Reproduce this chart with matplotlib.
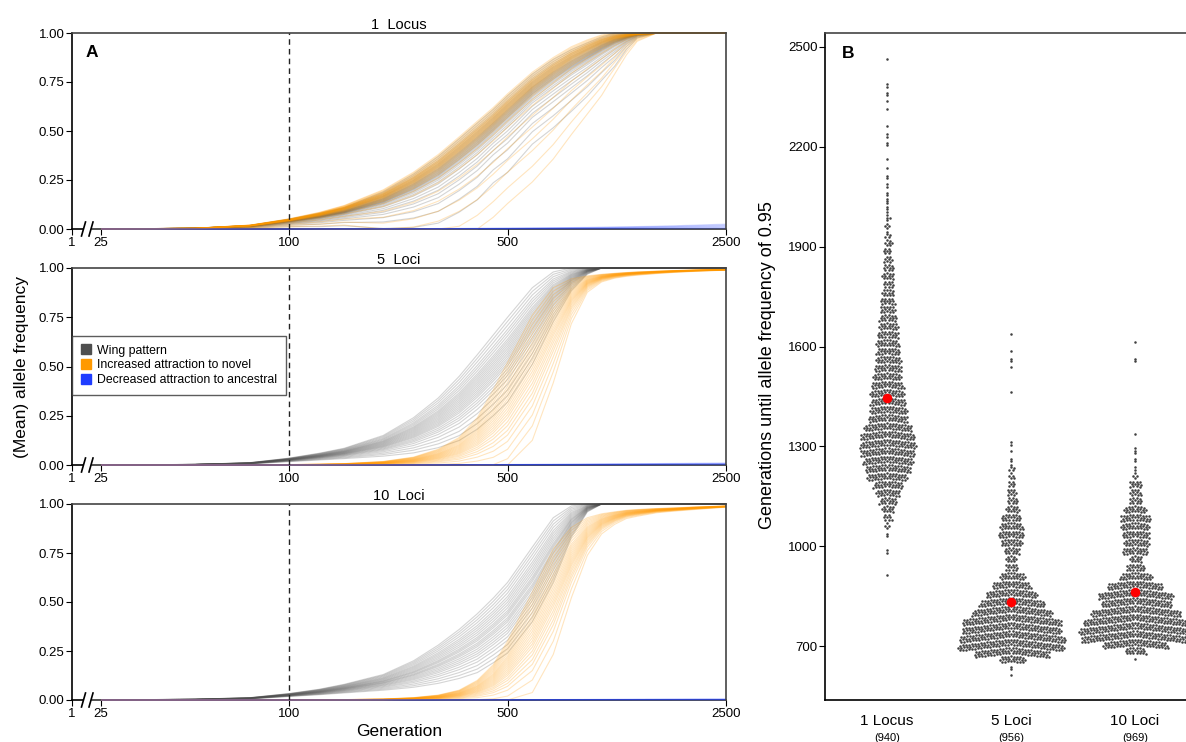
import numpy as np
import matplotlib.pyplot as plt
from matplotlib.lines import Line2D
from matplotlib.transforms import blended_transform_factory

plt.rcParams['font.family'] = ['Liberation Sans', 'DejaVu Sans']

# ---------------- panel A: allele frequency trajectories ----------------
GENS = [25, 50, 75, 100, 125, 150, 200, 250, 300, 350, 400, 450, 500, 600, 700, 800, 900, 1000,
        1100, 1200, 1300, 1500, 1700, 2000, 2500]

# leading / lagging edge of each bundle of replicate lines
L1_GREY_LEAD = [0, 0.004, 0.018, 0.05, 0.08, 0.11, 0.19, 0.28, 0.37, 0.46, 0.54, 0.61, 0.68, 0.79, 0.865,
                0.915, 0.95, 0.98, 1, 1, 1, 1, 1, 1, 1]
L1_GREY_LAG = [0, 0.002, 0.01, 0.028, 0.04, 0.055, 0.08, 0.12, 0.17, 0.24, 0.31, 0.39, 0.45, 0.58, 0.66,
               0.73, 0.79, 0.85, 0.9, 0.95, 0.985, 1, 1, 1, 1]
L1_ORANGE_LEAD = [0, 0.004, 0.02, 0.052, 0.085, 0.12, 0.2, 0.29, 0.38, 0.47, 0.55, 0.62, 0.69, 0.8, 0.875,
                  0.93, 0.965, 0.99, 1, 1, 1, 1, 1, 1, 1]
L1_ORANGE_LAG = [0, 0.002, 0.012, 0.032, 0.05, 0.07, 0.1, 0.15, 0.21, 0.28, 0.35, 0.42, 0.49, 0.6, 0.69,
                 0.77, 0.83, 0.88, 0.925, 0.96, 0.985, 1, 1, 1, 1]
L1_BLUE_LEAD = [0, 0, 0, 0.0005, 0.0008, 0.001, 0.0015, 0.002, 0.0025, 0.003, 0.0035, 0.004, 0.0045, 0.0055,
                0.0065, 0.0075, 0.0085, 0.0095, 0.0105, 0.0115, 0.0125, 0.0145, 0.0165, 0.02, 0.025]
L1_BLUE_LAG = [0, 0, 0, 0, 0, 0, 0, 0, 0, 0.0002, 0.0003, 0.0004, 0.0005, 0.0006, 0.0008, 0.001, 0.001,
               0.0012, 0.0014, 0.0015, 0.0016, 0.002, 0.0022, 0.0025, 0.003]

L5_GREY_LEAD = [0, 0.003, 0.012, 0.035, 0.06, 0.085, 0.15, 0.24, 0.34, 0.45, 0.56, 0.66, 0.75, 0.9, 0.98,
                1, 1, 1, 1, 1, 1, 1, 1, 1, 1]
L5_GREY_LAG = [0, 0.002, 0.006, 0.018, 0.027, 0.035, 0.05, 0.07, 0.1, 0.14, 0.2, 0.27, 0.34, 0.53, 0.74,
               0.89, 0.97, 1, 1, 1, 1, 1, 1, 1, 1]
L5_ORANGE_LEAD = [0, 0, 0, 0.002, 0.004, 0.007, 0.018, 0.04, 0.08, 0.14, 0.24, 0.38, 0.52, 0.76, 0.9,
                  0.945, 0.96, 0.968, 0.973, 0.977, 0.98, 0.984, 0.987, 0.99, 0.993]
L5_ORANGE_LAG = [0, 0, 0, 0, 0, 0, 0.002, 0.005, 0.01, 0.02, 0.04, 0.07, 0.12, 0.3, 0.55,
                 0.78, 0.9, 0.94, 0.955, 0.963, 0.968, 0.975, 0.98, 0.985, 0.99]
L5_BLUE_LEAD = [0, 0, 0, 0, 0.0003, 0.0005, 0.001, 0.0013, 0.0016, 0.0019, 0.0022, 0.0025, 0.0028, 0.0033,
                0.0038, 0.0043, 0.0048, 0.0053, 0.0058, 0.0062, 0.0066, 0.0074, 0.0082, 0.009, 0.01]
L5_BLUE_LAG = [0, 0, 0, 0, 0, 0, 0, 0, 0, 0, 0, 0.0002, 0.0003, 0.0004, 0.0005, 0.0006, 0.0007, 0.0008,
               0.0009, 0.001, 0.001, 0.0012, 0.0014, 0.0016, 0.002]

L10_GREY_LEAD = [0, 0.004, 0.012, 0.033, 0.055, 0.08, 0.13, 0.2, 0.28, 0.36, 0.44, 0.52, 0.6, 0.78, 0.93,
                 0.99, 1, 1, 1, 1, 1, 1, 1, 1, 1]
L10_GREY_LAG = [0, 0.002, 0.006, 0.018, 0.027, 0.036, 0.05, 0.065, 0.085, 0.11, 0.14, 0.19, 0.24, 0.4, 0.6,
                0.83, 0.96, 1, 1, 1, 1, 1, 1, 1, 1]
L10_ORANGE_LEAD = [0, 0, 0, 0.001, 0.001, 0.002, 0.005, 0.012, 0.025, 0.05, 0.1, 0.18, 0.3, 0.55, 0.77,
                   0.88, 0.93, 0.95, 0.96, 0.968, 0.972, 0.977, 0.98, 0.985, 0.99]
L10_ORANGE_LAG = [0, 0, 0, 0, 0, 0, 0, 0.002, 0.004, 0.007, 0.012, 0.025, 0.05, 0.15, 0.35,
                  0.6, 0.78, 0.87, 0.91, 0.935, 0.945, 0.96, 0.967, 0.975, 0.985]
L10_BLUE_LEAD = [0, 0, 0, 0, 0, 0, 0.0005, 0.0008, 0.001, 0.0012, 0.0014, 0.0016, 0.0018, 0.0021, 0.0024,
                 0.0027, 0.003, 0.0032, 0.0034, 0.0036, 0.0038, 0.0041, 0.0044, 0.0047, 0.005]
L10_BLUE_LAG = [0, 0, 0, 0, 0, 0, 0, 0, 0, 0, 0, 0, 0, 0.0002, 0.0003, 0.0004, 0.0004, 0.0005, 0.0005,
                0.0006, 0.0006, 0.0007, 0.0008, 0.0009, 0.001]

# position of each replicate between leading (0) and lagging (1) edge
W1_GREY = [0.0, 0.05, 0.1, 0.14, 0.18, 0.21, 0.24, 0.27, 0.3, 0.32, 0.34, 0.36, 0.38, 0.4, 0.42, 0.44,
           0.46, 0.48, 0.5, 0.53, 0.56, 0.6, 0.65, 0.7, 0.78, 0.86, 0.95, 1.05, 1.2, 1.4, 1.7]
W1_ORANGE = [0.0, 0.04, 0.08, 0.12, 0.15, 0.18, 0.2, 0.22, 0.24, 0.26, 0.28, 0.3, 0.32, 0.34, 0.36,
             0.38, 0.4, 0.43, 0.46, 0.5, 0.55, 0.6, 0.7, 0.85, 1.1, 1.4, 1.7, 2.0, 2.4, 2.8]
W5_GREY = [0.0, 0.05, 0.1, 0.15, 0.19, 0.23, 0.27, 0.3, 0.33, 0.36, 0.39, 0.42, 0.45, 0.48, 0.51, 0.54,
           0.57, 0.6, 0.64, 0.68, 0.72, 0.77, 0.83, 0.9, 0.97, 1.05]
W5_ORANGE = [0.0, 0.05, 0.1, 0.15, 0.2, 0.25, 0.3, 0.34, 0.38, 0.42, 0.46, 0.5, 0.54, 0.58, 0.62,
             0.66, 0.7, 0.75, 0.8, 0.86, 0.92, 1.0, 1.1, 1.22, 1.38]
W10_GREY = [0.0, 0.05, 0.1, 0.15, 0.2, 0.24, 0.28, 0.32, 0.36, 0.4, 0.43, 0.46, 0.5, 0.53, 0.56, 0.6,
            0.64, 0.68, 0.72, 0.77, 0.82, 0.88, 0.94, 1.0]
W10_ORANGE = [0.0, 0.05, 0.1, 0.15, 0.2, 0.25, 0.3, 0.34, 0.38, 0.42, 0.46, 0.5, 0.54, 0.58, 0.62,
              0.66, 0.7, 0.75, 0.8, 0.86, 0.92, 1.0, 1.12, 1.28]
W_BLUE = [0.0, 0.15, 0.3, 0.45, 0.6, 0.75, 0.9, 1.0]

PANEL_TITLES = ['1  Locus', '5  Loci', '10  Loci']
LEGEND_LABELS = ['Wing pattern', 'Increased attraction to novel', 'Decreased attraction to ancestral']

# ---------------- panel B: generations until frequency 0.95 (25-generation bins) ----------------
B_CATS = ['1 Locus', '5 Loci', '10 Loci']
B_N = [940, 956, 969]
B_BIN = 25
B1_START = 900
B1_COUNTS = [1, 0, 0, 2, 0, 2, 4, 8,
             12, 17, 24, 29, 40, 45, 50, 54,
             56, 54, 48, 39, 37, 35, 34, 32,
             28, 27, 25, 23, 23, 21, 19, 17,
             15, 14, 12, 10, 12, 10, 8, 7,
             7, 5, 4, 4, 3, 3, 2, 2,
             2, 1, 1, 0, 2, 2, 1, 0,
             1, 1, 2, 2, 0, 0, 1]
B5_START = 600
B5_COUNTS = [1, 2, 25, 75, 106, 106, 99, 99, 80, 65,
             51, 38, 25, 12, 10, 15, 21, 25, 23, 19,
             13, 10, 9, 6, 5, 5, 2, 1, 2, 0,
             0, 0, 0, 0, 1, 0, 0, 1, 2, 1, 0, 1]
B10_START = 650
B10_COUNTS = [1, 20, 65, 108, 113, 103, 90, 70, 75, 55,
              32, 18, 12, 25, 25, 27, 28, 30, 22, 12,
              11, 12, 4, 2, 2, 3, 0, 1, 0, 0,
              0, 0, 0, 0, 0, 0, 2, 0, 1]

GREY = '#4f4f4f'
ORANGE = '#ff9900'
BLUE = '#1f3dff'

fig = plt.figure(figsize=(11.86, 7.42), dpi=100)
W, H = 1186.0, 742.0


def px_axes(x0, y0, x1, y1):
    return fig.add_axes([x0 / W, 1 - y1 / H, (x1 - x0) / W, (y1 - y0) / H])


a_rows = [(33, 229), (268, 465), (504, 700)]
panel_data = [
    (L1_GREY_LEAD, L1_GREY_LAG, W1_GREY, L1_ORANGE_LEAD, L1_ORANGE_LAG, W1_ORANGE, L1_BLUE_LEAD, L1_BLUE_LAG),
    (L5_GREY_LEAD, L5_GREY_LAG, W5_GREY, L5_ORANGE_LEAD, L5_ORANGE_LAG, W5_ORANGE, L5_BLUE_LEAD, L5_BLUE_LAG),
    (L10_GREY_LEAD, L10_GREY_LAG, W10_GREY, L10_ORANGE_LEAD, L10_ORANGE_LAG, W10_ORANGE, L10_BLUE_LEAD, L10_BLUE_LAG),
]

lg = np.log10(GENS)
x_first = np.log10(25) - 29 / 312.0   # broken axis: generation 1 sits just left of 25
x_last = np.log10(2500)

a_axes = []
for k, ((top, bot), pd) in enumerate(zip(a_rows, panel_data)):
    ax = px_axes(72, top, 726, bot)
    a_axes.append(ax)
    g_lead, g_lag, g_w, o_lead, o_lag, o_w, b_lead, b_lag = pd
    for lead, lag, ws, col, alpha in [(g_lead, g_lag, g_w, GREY, 0.24),
                                      (o_lead, o_lag, o_w, ORANGE, 0.25),
                                      (b_lead, b_lag, W_BLUE, BLUE, 0.16)]:
        lead = np.array(lead)
        lag = np.array(lag)
        for w in ws:
            y = np.clip(lead + w * (lag - lead), 0, 1)
            ax.plot(lg, y, color=col, lw=0.8, alpha=alpha, clip_on=False, solid_capstyle='butt', zorder=2)
    ax.axvline(2, color='#222222', lw=1, ls=(0, (4, 3)), zorder=5)
    ax.set_xlim(x_first, x_last)
    ax.set_ylim(0, 1)
    ax.set_xticks([x_first, np.log10(25), 2, np.log10(500), x_last])
    ax.set_xticklabels(['1', '25', '100', '500', '2500'])
    ax.set_yticks([0, 0.25, 0.5, 0.75, 1.0])
    ax.set_yticklabels(['0.00', '0.25', '0.50', '0.75', '1.00'])
    ax.tick_params(labelsize=9.5, length=4, width=0.8, pad=1.5, colors='black')
    for s in ['top', 'right']:
        ax.spines[s].set_color('#444444')
        ax.spines[s].set_linewidth(1.2)
    ax.spines['left'].set_linewidth(1.2)
    ax.spines['bottom'].set_visible(False)
    # bottom axis line with break marks
    ah = bot - top
    ax.plot([0, 0.0165], [0, 0], transform=ax.transAxes, color='black', lw=1.2, clip_on=False)
    ax.plot([0.0305, 1], [0, 0], transform=ax.transAxes, color='#222222', lw=1.1, clip_on=False, zorder=1)
    for cx in [83.5, 91.0]:
        xc = (cx - 72) / 654.0
        ax.plot([xc - 2 / 654.0, xc + 2 / 654.0], [-7 / ah, 7 / ah], transform=ax.transAxes,
                color='black', lw=1.2, clip_on=False)
    ax.set_title(PANEL_TITLES[k], fontsize=10.5, pad=3)

a_axes[0].text(0.03, 0.9, 'A', transform=a_axes[0].transAxes, fontsize=12.5, fontweight='bold',
               ha='center', va='center')

handles = [Line2D([], [], marker='s', ls='none', markersize=7.5, color=c) for c in [GREY, ORANGE, BLUE]]
leg = a_axes[1].legend(handles, LEGEND_LABELS, loc='upper left', bbox_to_anchor=(0, 0.655),
                       borderaxespad=0, fontsize=8.8, frameon=True, fancybox=False,
                       handlelength=0.8, handletextpad=0.5, labelspacing=0.22, borderpad=0.72)
leg.get_frame().set_edgecolor('#333333')
leg.get_frame().set_linewidth(1.0)

fig.text(22 / W, 1 - 367 / H, '(Mean) allele frequency', rotation=90, fontsize=12.5,
         ha='center', va='center')
fig.text(399 / W, 1 - 731 / H, 'Generation', fontsize=12.5, ha='center', va='center')

# ---------------- panel B ----------------
axb = px_axes(825, 33, 1197, 700)
unit_px = 123.5
gen_per_px = 3.0
ROW_FRAC = [0.22, 0.5, 0.78]


def swarm(start, counts, center, sp_px=3.0, droop=0.12):
    xs, ys = [], []
    rows = len(ROW_FRAC)
    order = [1, 0, 2]
    for k, n in enumerate(counts):
        if n == 0:
            continue
        b = start + k * B_BIN
        per_row = [n // rows] * rows
        for r in order[:n % rows]:
            per_row[r] += 1
        for r, m in enumerate(per_row):
            if m == 0:
                continue
            yv = b + B_BIN * ROW_FRAC[r]
            idx = np.arange(m) - (m - 1) / 2.0
            # hexagonal packing: alternate rows sit on a half-step grid
            want_half = (k * rows + r) % 2 == 1
            is_half = m % 2 == 0
            if m > 1 and want_half != is_half:
                idx = idx + 0.5
            for j in idx:
                off = j * sp_px
                xs.append(center + off / unit_px)
                ys.append(yv - droop * abs(off) * gen_per_px)
    return xs, ys


for i, (start, counts) in enumerate([(B1_START, B1_COUNTS), (B5_START, B5_COUNTS), (B10_START, B10_COUNTS)]):
    xs, ys = swarm(start, counts, i + 1)
    axb.scatter(xs, ys, s=3.3, color='#404040', linewidths=0, zorder=2)
    vals = np.repeat(start + B_BIN / 2.0 + B_BIN * np.arange(len(counts)), counts)
    axb.scatter([i + 1], [vals.mean()], s=48, color='#ff0000', linewidths=0, zorder=3)

axb.set_xlim(0.5, 3.5)
axb.set_ylim(538, 2542)
axb.set_yticks([700, 1000, 1300, 1600, 1900, 2200, 2500])
axb.set_xticks([1, 2, 3])
axb.set_xticklabels(B_CATS, fontsize=11)
axb.tick_params(axis='x', length=0, pad=10)
axb.tick_params(axis='y', labelsize=9.5, length=4, width=0.8, pad=1.5)
for s in ['top', 'right']:
    axb.spines[s].set_color('#444444')
    axb.spines[s].set_linewidth(1.2)
for s in ['left', 'bottom']:
    axb.spines[s].set_linewidth(1.2)
tr = blended_transform_factory(axb.transData, axb.transAxes)
for i, n in enumerate(B_N):
    axb.text(i + 1, -0.057, '(%d)' % n, transform=tr, fontsize=8, ha='center', va='center')
axb.text(0.062, 0.97, 'B', transform=axb.transAxes, fontsize=12.5, fontweight='bold',
         ha='center', va='center')
fig.text(768 / W, 1 - 365 / H, 'Generations until allele frequency of 0.95', rotation=90,
         fontsize=13, ha='center', va='center')

fig.savefig('out.png', dpi=100)
